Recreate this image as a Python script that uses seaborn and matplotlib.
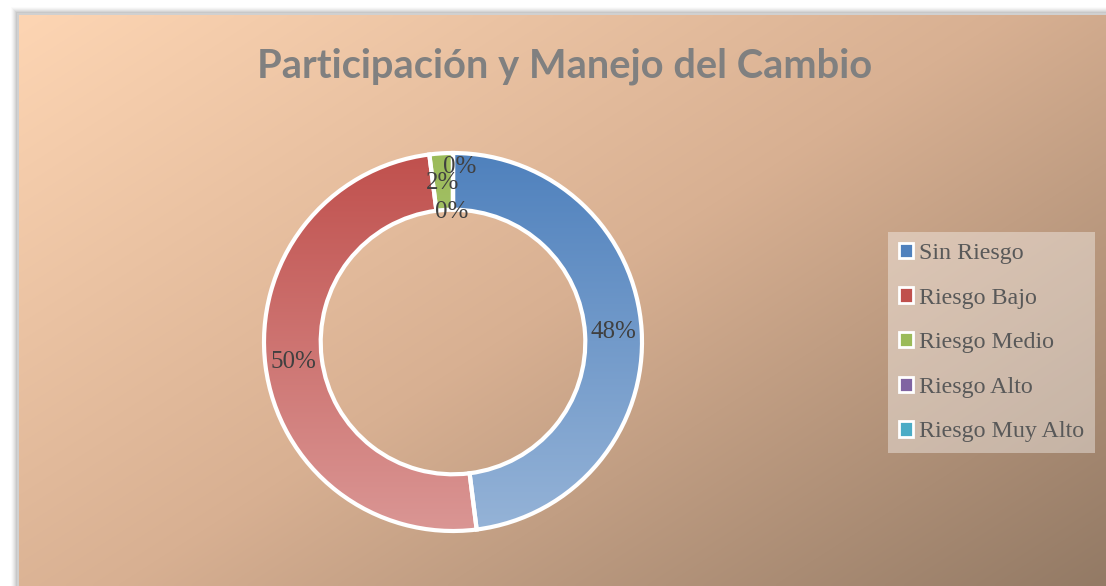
import numpy as np
import matplotlib
matplotlib.use("Agg")
import matplotlib.pyplot as plt
import seaborn as sns
from matplotlib.patches import Rectangle
from matplotlib.colors import to_rgb

categories = ["Sin Riesgo", "Riesgo Bajo", "Riesgo Medio", "Riesgo Alto", "Riesgo Muy Alto"]
values = [48, 50, 2, 0, 0]
top_colors = ["#4F81BD", "#C0504D", "#9BBB59", "#8064A2", "#4BACC6"]
bottom_colors = ["#95B3D7", "#DA9694", "#C3D69B", "#B3A2C7", "#93CDDD"]
title = "Participación y Manejo del Cambio"

sns.set_style("white")
plt.rcParams["font.family"] = ["DejaVu Sans"]
serif = ["Liberation Serif", "DejaVu Serif"]

W, H = 1106, 586
fig = plt.figure(figsize=(W / 100, H / 100), dpi=100)

# background: white page, shadow, gradient chart area
bg = fig.add_axes([0, 0, 1, 1])
bg.set_xlim(0, W)
bg.set_ylim(H, 0)
bg.axis("off")
for i, a in enumerate(np.linspace(0.05, 0.25, 8)):
    off = 8 - i
    bg.add_patch(Rectangle((19 - off, 15 - off), W, H, facecolor="#555555",
                           alpha=a * 0.5, edgecolor="none"))
bg.add_patch(Rectangle((17, 13), W, H, facecolor="#D0D0D0", edgecolor="none"))

c0 = np.array(to_rgb("#FDD5B3"))
c1 = np.array(to_rgb("#D8B092"))
c2 = np.array(to_rgb("#937A65"))
xx, yy = np.meshgrid(np.linspace(0, 1, 300), np.linspace(0, 1, 160))
t = (xx * 0.55 + yy * 0.45)
t = t[..., None]
grad = np.where(t < 0.5, c0 + (c1 - c0) * (t / 0.5), c1 + (c2 - c1) * ((t - 0.5) / 0.5))
bg.imshow(grad, extent=(19, W, H, 15), aspect="auto", zorder=1, interpolation="bilinear")

bg.text(565, 66, title, ha="center", va="center", fontsize=28.7, fontweight="bold",
        color="#808080", family=["Lato", "DejaVu Sans"], zorder=3)

# donut
cx, cy, R = 453, 342, 189
half = 200
ax = fig.add_axes([(cx - half) / W, (H - cy - half) / H, 2 * half / W, 2 * half / H])

wedges, texts = ax.pie(values, radius=1, startangle=90, counterclock=False,
                       wedgeprops=dict(width=0.3, edgecolor="white", linewidth=3),
                       labels=[f"{v}%" for v in values], labeldistance=0.85,
                       textprops=dict(fontsize=18, color="#404040", family=serif))

for w, tc, bc in zip(wedges, top_colors, bottom_colors):
    w.set_facecolor("none")
    g = np.linspace(0, 1, 256)[:, None, None]
    img = np.array(to_rgb(tc)) * (1 - g) + np.array(to_rgb(bc)) * g
    im = ax.imshow(np.repeat(img, 2, axis=1), extent=(-1, 1, -1, 1), aspect="auto",
                   zorder=w.get_zorder() - 0.1, interpolation="bilinear")
    im.set_clip_path(w)
ax.set_xlim(-half / R, half / R)
ax.set_ylim(-half / R, half / R)
ax.axis("off")

for tx in texts:
    tx.set_ha("center")
    tx.set_va("center")

# small labels at the top nudged apart like the original
zero_idx = [i for i, v in enumerate(values) if v == 0]
for k, i in enumerate(zero_idx):
    texts[i].set_position((0.035, 0.925) if k == 0 else (-0.005, 0.69))
texts[2].set_position((-0.053, 0.84))

handles = [Rectangle((0, 0), 1, 1, facecolor=c, edgecolor="white", linewidth=2)
           for c in top_colors]
leg = fig.legend(handles, categories, loc="upper left",
                 bbox_to_anchor=(888 / W, 1 - 232 / H), borderaxespad=0,
                 frameon=True, fancybox=False, labelspacing=0.98,
                 handlelength=0.6, handleheight=0.6, handletextpad=0.25,
                 borderpad=0.45, facecolor="white", framealpha=0.38,
                 edgecolor="none", prop=dict(family=serif, size=17.3))
for txt in leg.get_texts():
    txt.set_color("#595959")

fig.savefig("out.png", dpi=100)
